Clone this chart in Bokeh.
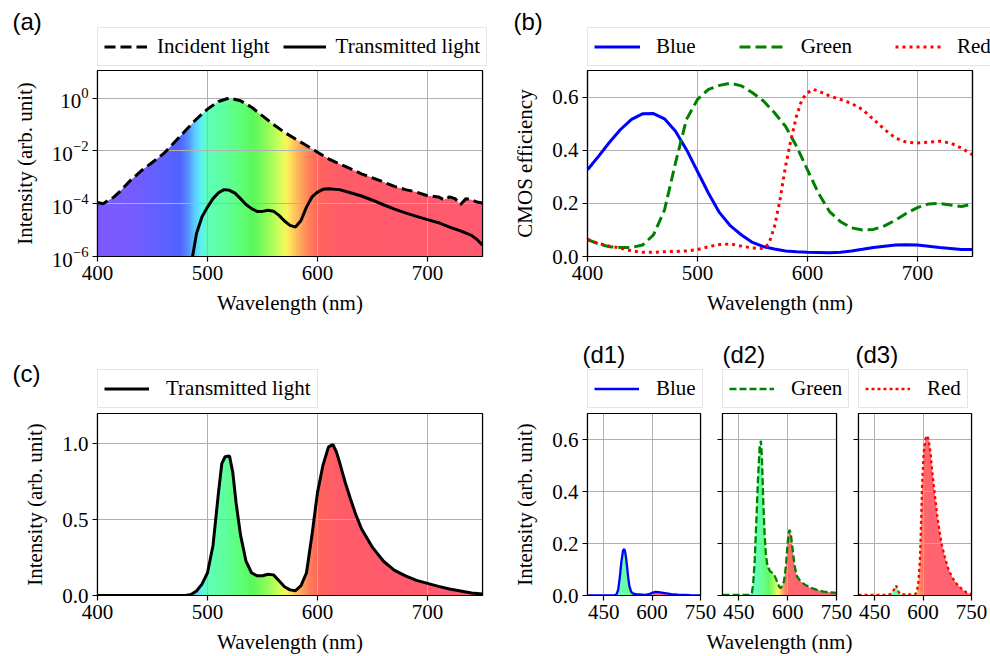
import numpy as np
from bokeh.plotting import figure
from bokeh.models import (Legend, LegendItem, Label, FixedTicker, PrintfTickFormatter, CustomJSTickFormatter,
                          Range1d, LinearAxis)
from bokeh.layouts import row, column
from bokeh.embed import file_html
from bokeh.resources import INLINE

SERIF = "Liberation Serif"
SANS = "Liberation Sans"
FS = "21px"

# ---------------- data ----------------
# (a) incident light (log scale)
a_inc_wl = [400, 405, 415, 420, 430, 440, 450, 460, 470, 480, 490, 500, 510, 520, 530, 540, 550, 560,
            570, 580, 590, 600, 610, 620, 630, 640, 650, 660, 670, 680, 690, 700, 710, 715, 720, 725,
            730, 735, 740, 745, 750]
a_inc_val = [1.1e-4, 1.0e-4, 1.8e-4, 2.8e-4, 7.6e-4, 1.8e-3, 3.7e-3, 7.8e-3, 2.1e-2, 5.9e-2, 0.16, 0.38,
             0.74, 1.0, 0.79, 0.45, 0.21, 0.10, 0.05, 0.028, 0.016, 8.9e-3, 5.0e-3, 3.2e-3, 2.1e-3,
             1.35e-3, 9.5e-4, 6.6e-4, 4.5e-4, 3.4e-4, 2.75e-4, 2.0e-4, 1.8e-4, 1.4e-4, 1.8e-4, 1.55e-4,
             9.3e-5, 1.55e-4, 1.4e-4, 1.15e-4, 1.07e-4]
# (a) transmitted light (log scale)
a_tr_wl = [486, 490, 495, 500, 505, 510, 515, 520, 525, 530, 535, 540, 545, 550, 555, 560, 565, 570,
           575, 580, 585, 590, 595, 600, 605, 610, 620, 630, 640, 650, 660, 670, 680, 690, 700, 710,
           720, 730, 740, 745, 750]
a_tr_val = [8e-7, 7.4e-6, 3.2e-5, 7.4e-5, 1.55e-4, 2.6e-4, 3.4e-4, 3.2e-4, 2.5e-4, 1.55e-4, 9.3e-5,
            6.5e-5, 5.1e-5, 5.1e-5, 5.6e-5, 5.2e-5, 3.6e-5, 2.2e-5, 1.5e-5, 1.3e-5, 2.3e-5, 7.4e-5,
            1.8e-4, 2.75e-4, 3.5e-4, 3.7e-4, 3.4e-4, 2.6e-4, 1.95e-4, 1.35e-4, 9.1e-5, 6.2e-5, 4.5e-5,
            3.3e-5, 2.5e-5, 1.9e-5, 1.3e-5, 9.3e-6, 6.3e-6, 4.4e-6, 2.7e-6]

# (b) CMOS efficiency
b_wl = [400, 410, 420, 430, 440, 450, 460, 470, 480, 490, 500, 510, 520, 530, 540, 550, 560, 570,
        580, 590, 600, 610, 620, 630, 640, 650, 660, 670, 680, 690, 700, 710, 720, 730, 740, 750]
b_blue = [0.326, 0.377, 0.43, 0.478, 0.516, 0.537, 0.538, 0.518, 0.471, 0.402, 0.32, 0.238, 0.165,
          0.115, 0.081, 0.053, 0.037, 0.028, 0.021, 0.018, 0.016, 0.015, 0.014, 0.016, 0.021, 0.027,
          0.034, 0.039, 0.043, 0.044, 0.043, 0.039, 0.034, 0.03, 0.026, 0.026]
b_green = [0.064, 0.047, 0.037, 0.034, 0.034, 0.043, 0.081, 0.175, 0.352, 0.516, 0.591, 0.629, 0.644,
           0.652, 0.642, 0.616, 0.585, 0.541, 0.49, 0.415, 0.326, 0.238, 0.169, 0.131, 0.108, 0.1,
           0.102, 0.115, 0.137, 0.163, 0.184, 0.198, 0.2, 0.194, 0.188, 0.198]
b_red_wl = [400, 410, 420, 430, 440, 450, 460, 470, 480, 490, 500, 510, 520, 530, 540, 550, 560, 565,
            570, 575, 580, 585, 590, 595, 600, 605, 610, 620, 630, 640, 650, 660, 670, 680, 690, 700,
            710, 720, 730, 740, 750]
b_red = [0.064, 0.049, 0.039, 0.032, 0.021, 0.016, 0.016, 0.018, 0.019, 0.021, 0.026, 0.037, 0.045,
         0.047, 0.039, 0.032, 0.03, 0.049, 0.112, 0.213, 0.339, 0.44, 0.528, 0.591, 0.616, 0.629,
         0.623, 0.604, 0.591, 0.576, 0.553, 0.516, 0.478, 0.446, 0.43, 0.427, 0.43, 0.434, 0.427,
         0.408, 0.383]

# (c) transmitted light (linear)
c_wl = [400, 480, 485, 490, 495, 500, 505, 510, 513, 516, 520, 523, 526, 530, 535, 540, 545, 550, 555,
        560, 565, 570, 575, 580, 585, 590, 595, 600, 605, 610, 614, 617, 620, 625, 630, 635, 640, 650,
        660, 670, 680, 690, 700, 710, 720, 730, 740, 750]
c_val = [0, 0, 0.006, 0.03, 0.075, 0.15, 0.33, 0.68, 0.87, 0.915, 0.92, 0.81, 0.61, 0.4, 0.226, 0.15,
         0.13, 0.13, 0.14, 0.136, 0.097, 0.058, 0.037, 0.032, 0.065, 0.15, 0.4, 0.68, 0.86, 0.98,
         0.995, 0.95, 0.88, 0.75, 0.636, 0.53, 0.44, 0.317, 0.226, 0.166, 0.13, 0.10, 0.08, 0.06,
         0.043, 0.03, 0.017, 0.01]

# (d1) blue channel
d1_wl = [400, 485, 490, 495, 500, 505, 510, 514, 517, 520, 523, 526, 530, 535, 540, 550, 560, 570, 580,
         590, 600, 610, 620, 630, 640, 650, 660, 680, 700, 720, 750]
d1_val = [0, 0, 0.005, 0.022, 0.07, 0.13, 0.172, 0.179, 0.165, 0.14, 0.105, 0.07, 0.035, 0.015, 0.008,
          0.005, 0.004, 0.003, 0.002, 0.005, 0.01, 0.014, 0.013, 0.011, 0.009, 0.007, 0.005, 0.003,
          0.002, 0.001, 0.0005]
# (d2) green channel
d2_wl = [400, 480, 486, 490, 494, 499, 504, 509, 514, 518, 521, 525, 529, 533, 538, 545, 552, 558, 564,
         570, 575, 579, 584, 589, 595, 600, 603, 606, 610, 615, 621, 628, 639, 655, 670, 690, 710, 742, 750]
d2_val = [0.002, 0.002, 0.004, 0.01, 0.042, 0.137, 0.29, 0.45, 0.57, 0.595, 0.53, 0.37, 0.244, 0.16,
          0.115, 0.095, 0.088, 0.082, 0.065, 0.045, 0.032, 0.028, 0.04, 0.055, 0.118, 0.2, 0.24, 0.253,
          0.235, 0.18, 0.118, 0.075, 0.055, 0.04, 0.03, 0.022, 0.015, 0.011, 0.01]
# (d3) red channel
d3_wl = [400, 480, 493, 503, 511, 517, 522, 527, 534, 555, 570, 576, 580, 585, 590, 592, 597, 602, 607,
         612, 617, 623, 628, 633, 645, 657, 667, 677, 690, 705, 720, 735, 750]
d3_val = [0.002, 0.002, 0.003, 0.008, 0.025, 0.038, 0.02, 0.008, 0.004, 0.004, 0.005, 0.005, 0.012,
          0.043, 0.13, 0.2, 0.423, 0.55, 0.6, 0.615, 0.6, 0.55, 0.48, 0.423, 0.296, 0.2, 0.15, 0.106,
          0.07, 0.043, 0.025, 0.011, 0.005]

# tick positions
ticks_ab = [400, 500, 600, 700]
ticks_d = [450, 600, 750]

# spectrum colour stops (style only)
spec_stop_wl = [400, 430, 460, 475, 482, 488, 494, 500, 515, 530, 542, 555, 565, 572, 578, 585, 593, 602, 620, 750]
spec_stop_rgb = [(125, 90, 255), (118, 92, 255), (95, 98, 255), (80, 100, 255), (85, 140, 255),
                 (90, 200, 255), (90, 240, 245), (95, 255, 185), (95, 255, 160), (95, 255, 120),
                 (90, 248, 90), (150, 252, 90), (205, 255, 90), (250, 245, 90), (255, 205, 90),
                 (255, 165, 90), (255, 125, 90), (255, 100, 95), (255, 92, 105), (255, 90, 112)]


def spec_color(w):
    r = np.interp(w, spec_stop_wl, [c[0] for c in spec_stop_rgb])
    g = np.interp(w, spec_stop_wl, [c[1] for c in spec_stop_rgb])
    b = np.interp(w, spec_stop_wl, [c[2] for c in spec_stop_rgb])
    return "#%02x%02x%02x" % (int(round(r)), int(round(g)), int(round(b)))


def spectrum_fill(p, wl, vals, ymin, ymax, mask_top):
    lefts = np.arange(400, 750)
    rights = np.minimum(lefts + 2.0, 750)
    cols = [spec_color(l + 0.5) for l in lefts]
    p.quad(left=lefts, right=rights, bottom=ymin, top=ymax, fill_color=cols,
           line_color=None, level="image")
    p.varea(x=wl, y1=vals, y2=mask_top, fill_color="white", level="image")


def spine(p, place):
    ax = LinearAxis(ticker=FixedTicker(ticks=[]), major_tick_out=0, major_tick_in=0,
                    major_label_standoff=0, axis_line_color="black", axis_line_width=1.2)
    p.add_layout(ax, place)


def make_fig(width, height, left, right, bottom, y_range, y_type="linear"):
    p = figure(width=width, height=height, x_range=Range1d(400, 750), y_range=y_range,
               y_axis_type=y_type, output_backend="svg", toolbar_location=None,
               min_border_left=left, min_border_right=right, min_border_top=0,
               min_border_bottom=bottom)
    p.background_fill_color = "white"
    p.border_fill_color = "white"
    p.outline_line_color = "black"
    p.outline_line_width = 1.2
    xa = p.below[0]
    ya = p.left[0]
    for ax in (xa, ya):
        ax.major_label_text_font = SERIF
        ax.major_label_text_font_size = FS
        ax.major_label_text_color = "black"
        ax.axis_label_text_font = SERIF
        ax.axis_label_text_font_size = FS
        ax.axis_label_text_font_style = "normal"
        ax.axis_label_text_color = "black"
        ax.axis_line_color = "black"
        ax.axis_line_width = 1.2
        ax.major_tick_line_color = "black"
        ax.major_tick_line_width = 1.2
        ax.major_tick_out = 5
        ax.major_tick_in = 0
        ax.minor_tick_line_color = None
        ax.major_label_standoff = 4
        ax.axis_label_standoff = 8
    ya.axis_label_standoff = 12
    p.grid.grid_line_color = "#b0b0b0"
    p.grid.grid_line_width = 1
    spine(p, "above")
    spine(p, "right")
    return p, xa, ya


def legend_fig(width, height, tag, tag_x, tag_y, styles, leg_x, leg_y, glyph_w, standoff, spacing):
    """A strip above a panel that holds its tag and its legend."""
    q = figure(width=width, height=height, x_range=Range1d(0, 1), y_range=Range1d(0, 1),
               x_axis_type=None, y_axis_type=None, output_backend="svg", toolbar_location=None,
               min_border=0, min_border_left=0, min_border_right=0, min_border_top=0,
               min_border_bottom=0)
    q.outline_line_color = None
    q.grid.visible = False
    q.background_fill_color = "white"
    q.border_fill_color = "white"
    items = []
    for label, kw in styles:
        # legend proxy: lies outside the visible range, only its style is shown in the legend
        r = q.line(x=[-5, -4], y=[-5, -4], **kw)
        items.append(LegendItem(label=label, renderers=[r]))
    q.add_layout(Legend(items=items, location=(leg_x, leg_y), orientation="horizontal",
                        label_text_font=SERIF, label_text_font_size=FS, label_text_color="black",
                        glyph_width=glyph_w, glyph_height=21, label_height=21,
                        label_standoff=standoff, spacing=spacing, padding=6, margin=0,
                        border_line_color="#cccccc", border_line_width=1,
                        background_fill_color="white", background_fill_alpha=1))
    q.add_layout(Label(x=tag_x, y=tag_y, x_units="screen", y_units="screen", text=tag,
                       text_font=SANS, text_font_size="24px", text_baseline="top",
                       text_color="black"))
    return q


BLACK_DASH = dict(line_color="black", line_width=3, line_dash="11 5")
BLACK = dict(line_color="black", line_width=3)
BLUE3 = dict(line_color="#0000ff", line_width=3)
GREEN3 = dict(line_color="#008000", line_width=3, line_dash="11 5")
RED3 = dict(line_color="#ff0000", line_width=3, line_dash="3 4")
BLUE2 = dict(line_color="#0000ff", line_width=2.3)
GREEN2 = dict(line_color="#008000", line_width=2.3, line_dash="7 3")
RED2 = dict(line_color="#ff0000", line_width=2.3, line_dash="3 3")

# ---------------- legend / tag strips ----------------
la = legend_fig(495, 70, "(a)", 12, 63, [("Incident light", BLACK_DASH), ("Transmitted light", BLACK)],
                97, 4, 43, 10, 13)
lb = legend_fig(495, 70, "(b)", 18, 63, [("Blue", BLUE3), ("Green", GREEN3), ("Red", RED3)],
                92, 4, 46, 16, 43)
lc = legend_fig(500, 85, "(c)", 12, 54, [("Transmitted light", BLACK)], 97, 5, 45, 17, 10)
ld1 = legend_fig(216, 85, "(d1)", 82, 73, [("Blue", BLUE2)], 87, 5, 45, 17, 10)
ld2 = legend_fig(139, 85, "(d2)", 6, 73, [("Green", GREEN2)], 6, 5, 45, 17, 10)
ld3 = legend_fig(135, 85, "(d3)", 0, 73, [("Red", RED2)], 3, 5, 45, 17, 10)

# ---------------- (a) ----------------
fa, fa_x, fa_y = make_fig(495, 258, 97, 13, 72, Range1d(1e-6, 11), "log")
spectrum_fill(fa, a_inc_wl, a_inc_val, 1e-6, 11, 1e3)
fa.line(a_inc_wl, a_inc_val, **BLACK_DASH)
fa.line(a_tr_wl, a_tr_val, **BLACK)
fa_x.ticker = FixedTicker(ticks=ticks_ab)
fa_y.ticker = FixedTicker(ticks=[1e-6, 1e-4, 1e-2, 1])
fa_x.axis_label = "Wavelength (nm)"
fa_y.axis_label = "Intensity (arb. unit)"

# ---------------- (b) ----------------
fb, fb_x, fb_y = make_fig(495, 258, 92, 18, 72, Range1d(0, 0.7))
fb.line(b_wl, b_blue, **BLUE3)
fb.line(b_wl, b_green, **GREEN3)
fb.line(b_red_wl, b_red, **RED3)
fb_x.ticker = FixedTicker(ticks=ticks_ab)
fb_y.ticker = FixedTicker(ticks=[0, 0.2, 0.4, 0.6])
fb_y.formatter = PrintfTickFormatter(format="%.1f")
fb_x.axis_label = "Wavelength (nm)"
fb_y.axis_label = "CMOS efficiency"

# ---------------- (c) ----------------
fc, fc_x, fc_y = make_fig(500, 243, 97, 18, 58, Range1d(0, 1.2))
spectrum_fill(fc, c_wl, c_val, 0, 1.2, 5)
fc.line(c_wl, c_val, **BLACK)
fc_x.ticker = FixedTicker(ticks=ticks_ab)
fc_y.ticker = FixedTicker(ticks=[0, 0.5, 1.0])
fc_y.formatter = PrintfTickFormatter(format="%.1f")
fc_x.axis_label = "Wavelength (nm)"
fc_y.axis_label = "Intensity (arb. unit)"


# ---------------- (d) ----------------
def d_panel(width, left, right, wl, vals, style, show_ylabels, xlabel):
    p, xa, ya = make_fig(width, 243, left, right, 58, Range1d(0, 0.7))
    spectrum_fill(p, wl, vals, 0, 0.7, 5)
    p.line(wl, vals, **style)
    xa.ticker = FixedTicker(ticks=ticks_d)
    ya.ticker = FixedTicker(ticks=[0, 0.2, 0.4, 0.6])
    if show_ylabels:
        ya.formatter = PrintfTickFormatter(format="%.1f")
        ya.axis_label = "Intensity (arb. unit)"
    else:
        ya.formatter = CustomJSTickFormatter(code="return ''")
        ya.major_label_standoff = 0
    if xlabel:
        xa.axis_label = "Wavelength (nm)"
    return p


fd1 = d_panel(216, 87, 16, d1_wl, d1_val, BLUE2, True, False)
fd2 = d_panel(148, 17, 17, d2_wl, d2_val, GREEN2, False, True)
fd3 = d_panel(137, 5, 19, d3_wl, d3_val, RED2, False, False)
fd2.border_fill_color = None
fd2.margin = (0, 0, 0, -11)

layout = column(row(la, lb), row(fa, fb), row(lc, ld1, ld2, ld3), row(fc, fd1, fd2, fd3))
open("out.html", "w").write(file_html(layout, INLINE))
